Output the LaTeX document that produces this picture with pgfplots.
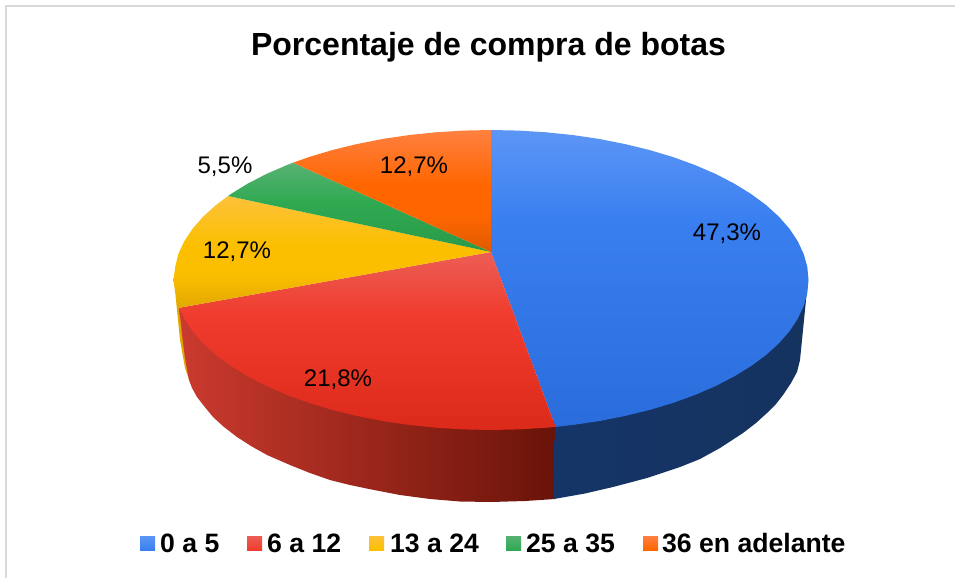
\documentclass[border=0pt]{standalone}
\usepackage{pgfplots}
\pgfplotsset{compat=1.18}
\usepackage{fontspec}
\setmainfont{Liberation Sans}
\definecolor{bl1}{HTML}{5C96F6}\definecolor{bl2}{HTML}{3A7FF0}\definecolor{bl3}{HTML}{2A6CDB}
\definecolor{rd1}{HTML}{EC5E55}\definecolor{rd2}{HTML}{F03C2E}\definecolor{rd3}{HTML}{DC2A1A}
\definecolor{ye1}{HTML}{FDC23A}\definecolor{ye2}{HTML}{FBBF00}\definecolor{ye3}{HTML}{E2A800}
\definecolor{gr1}{HTML}{58B274}\definecolor{gr2}{HTML}{2FA951}\definecolor{gr3}{HTML}{2A9A48}
\definecolor{or1}{HTML}{FF8040}\definecolor{or2}{HTML}{FF6600}\definecolor{or3}{HTML}{E05A00}
\definecolor{sr1}{HTML}{CB3A2E}\definecolor{sr2}{HTML}{A3231A}\definecolor{sr3}{HTML}{6A1309}
\definecolor{sb1}{HTML}{153568}\definecolor{sb2}{HTML}{112E5C}\definecolor{sb3}{HTML}{15335F}
\definecolor{frame}{HTML}{D9D9D9}
\pgfdeclareverticalshading{blface}{100bp}{color(0bp)=(bl3); color(25bp)=(bl3); color(60bp)=(bl2); color(75bp)=(bl1); color(100bp)=(bl1)}
\pgfdeclareverticalshading{rdface}{100bp}{color(0bp)=(rd3); color(25bp)=(rd3); color(57.5bp)=(rd2); color(75bp)=(rd1); color(100bp)=(rd1)}
\pgfdeclareverticalshading{yeface}{100bp}{color(0bp)=(ye3); color(25bp)=(ye3); color(40bp)=(ye2); color(52.5bp)=(ye2); color(75bp)=(ye1); color(100bp)=(ye1)}
\pgfdeclareverticalshading{grface}{100bp}{color(0bp)=(gr3); color(25bp)=(gr3); color(52.5bp)=(gr2); color(75bp)=(gr1); color(100bp)=(gr1)}
\pgfdeclareverticalshading{orface}{100bp}{color(0bp)=(or3); color(25bp)=(or3); color(40bp)=(or2); color(52.5bp)=(or2); color(75bp)=(or1); color(100bp)=(or1)}
\begin{document}
\begin{tikzpicture}
\begin{axis}[
  scale only axis, width=955bp, height=578bp,
  xmin=0, xmax=955, ymin=0, ymax=578, y dir=reverse,
  axis lines=none, clip=true,
  every axis plot/.append style={forget plot}]
% page
\addplot[fill=white, draw=none] coordinates {(0,0)(955,0)(955,578)(0,578)} \closedcycle;
\addplot[draw=frame, line width=2bp] coordinates {(6,578)(6,6)(955,6)};
% sides
\addplot[draw=none, fill=ye3] coordinates {(175.5,295)(178,320)(180,340)(185,368)(189,380)(181,310)} --cycle;
\addplot[draw=none, left color=sr1, middle color=sr2, right color=sr3] coordinates {
 (179,308)(181,325)(183,343)(185,358)(187,370)(189,380)(192,388)(197,397)(204,406)(213,417)(224,427)(237,437)(251,446)(267,455)(290,465)(310,473)(330,480)(350,485)(369,489)(400,495)(430,499)(460,501.5)(491,502)(525,501)(555,499)
 (555.5,420)(491,420)(300,380)(200,320)} --cycle;
\addplot[draw=none, left color=sb1, middle color=sb2, right color=sb3] coordinates {
 (555,420)(554,499)(585,493.5)(613,487)(647,478)(680,467)(700,459)(720,448)(743,433)(756,423)(767,413)(776,404)(783,395)(791,383)(797,372)(800,360)(803,330)(806.7,293)(808,280)(700,300)} --cycle;
% top faces
\addplot[draw=none, shade, shading=blface] coordinates {
 (491,252)(491,130)(518.7,130.6)(546.1,132.3)(573.2,135.1)(599.6,139)(625.2,144.1)(649.8,150.1)(673.1,157.1)(695.1,165.1)(715.5,173.9)(734.2,183.6)(751.1,194)(766,205)(778.8,216.6)(789.4,228.7)(797.7,241.2)(803.7,254)(807.3,266.9)(808.5,280)(807.3,293.1)(803.7,306)(797.7,318.8)(789.4,331.3)(778.8,343.4)(766,355)(751.1,366)(734.2,376.4)(715.5,386.1)(695.1,394.9)(673.1,402.9)(649.8,409.9)(625.2,415.9)(599.6,421)(573.2,424.9)(555.5,426.9)} --cycle;
\addplot[draw=none, shade, shading=rdface] coordinates {
 (491,252)(555.5,426.9)(546.1,427.7)(518.7,429.4)(491,430)(463.3,429.4)(435.9,427.7)(408.8,424.9)(382.4,421)(356.8,415.9)(332.2,409.9)(308.9,402.9)(286.9,394.9)(266.5,386.1)(247.8,376.4)(230.9,366)(216,355)(203.2,343.4)(192.6,331.3)(184.3,318.8)(179,307.8)} --cycle;
\addplot[draw=none, shade, shading=yeface] coordinates {
 (491,252)(179,307.8)(178.3,306)(175.2,293.1)(173.5,280)(175.2,266.9)(178.3,254)(184.3,241.2)(192.6,228.7)(203.2,216.6)(216,205)(228.1,196)} --cycle;
\addplot[draw=none, shade, shading=grface] coordinates {
 (491,252)(228.1,196)(230.9,194)(247.8,183.6)(266.5,173.9)(286.9,165.1)(293,162.7)} --cycle;
\addplot[draw=none, shade, shading=orface] coordinates {
 (491,252)(293,162.7)(308.9,157.1)(332.2,150.1)(356.8,144.1)(382.4,139)(408.8,135.1)(435.9,132.3)(463.3,130.6)(491,130)} --cycle;
% legend swatches
\addplot[draw=none, top color=bl1, bottom color=bl2] coordinates {(140,536)(155,536)(155,550)(140,550)} --cycle;
\addplot[draw=none, top color=rd1, bottom color=rd2] coordinates {(247,536)(262,536)(262,550)(247,550)} --cycle;
\addplot[draw=none, top color=ye1, bottom color=ye2] coordinates {(369,536)(384,536)(384,550)(369,550)} --cycle;
\addplot[draw=none, top color=gr1, bottom color=gr2] coordinates {(506,536)(521,536)(521,550)(506,550)} --cycle;
\addplot[draw=none, top color=or1, bottom color=or2] coordinates {(643,536)(658,536)(658,550)(643,550)} --cycle;
% text
\node[font=\fontsize{32bp}{36bp}\selectfont\bfseries] at (axis cs:488.5,47.5) {Porcentaje de compra de botas};
\def\lab#1#2#3{\node[font=\fontsize{24bp}{28bp}\selectfont] at (axis cs:#1,#2) {#3};}
\lab{727}{234}{47,3\%}
\lab{338}{380}{21,8\%}
\lab{237}{252}{12,7\%}
\lab{225}{167}{5,5\%}
\lab{414}{167}{12,7\%}
\def\leg#1#2{\node[anchor=base west, inner xsep=0pt, font=\fontsize{26.6bp}{30bp}\selectfont\bfseries] at (axis cs:#1,552) {#2};}
\leg{160}{0 a 5}
\leg{267}{6 a 12}
\leg{390}{13 a 24}
\leg{526}{25 a 35}
\leg{662}{36 en adelante}
\end{axis}
\end{tikzpicture}
\end{document}
